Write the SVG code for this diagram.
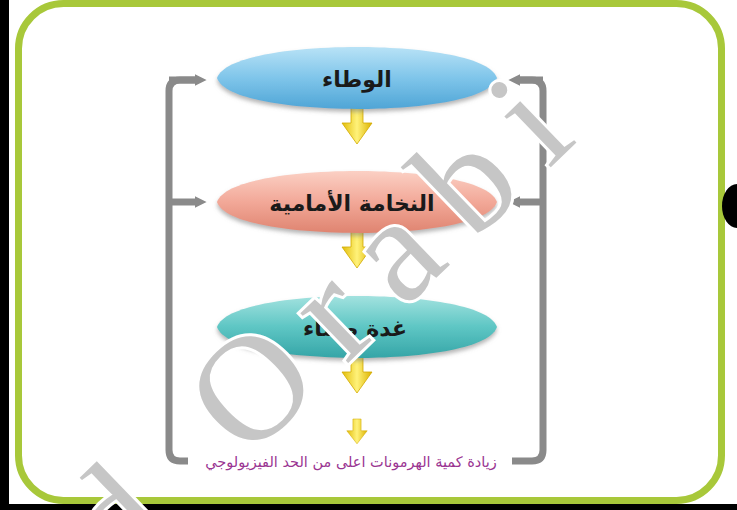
<svg xmlns="http://www.w3.org/2000/svg" width="737" height="510" viewBox="0 0 737 510">
  <style>
    .lbl { font-family: "DejaVu Sans", "Noto Sans", sans-serif; font-weight: bold; font-size: 22px; fill: #1a1a1a; text-anchor: middle; }
    .res { font-family: "DejaVu Sans", "Noto Sans", sans-serif; font-size: 14.5px; fill: #9a3592; text-anchor: middle; }
    .brk { fill: none; stroke: #8a8a8a; stroke-width: 7; stroke-linejoin: round; }
    .wm { font-family: "Liberation Serif", serif; font-size: 150px; letter-spacing: 30px; fill: #c6c6c6; stroke: #ffffff; stroke-width: 6; paint-order: stroke; }
  </style>
  <defs>
    <linearGradient id="gBlue" x1="0" y1="0" x2="0" y2="1">
      <stop offset="0" stop-color="#b8e2f6"/>
      <stop offset="0.5" stop-color="#7fc5ea"/>
      <stop offset="1" stop-color="#4fa5d6"/>
    </linearGradient>
    <linearGradient id="gPink" x1="0" y1="0" x2="0" y2="1">
      <stop offset="0" stop-color="#fbd0c4"/>
      <stop offset="0.5" stop-color="#f2a898"/>
      <stop offset="1" stop-color="#df8470"/>
    </linearGradient>
    <linearGradient id="gTeal" x1="0" y1="0" x2="0" y2="1">
      <stop offset="0" stop-color="#a2e2df"/>
      <stop offset="0.5" stop-color="#5ec6c4"/>
      <stop offset="1" stop-color="#35a5a7"/>
    </linearGradient>
    <linearGradient id="gYel" x1="0" y1="0" x2="1" y2="0">
      <stop offset="0" stop-color="#e2bd0a"/>
      <stop offset="0.5" stop-color="#fff27a"/>
      <stop offset="1" stop-color="#dcb200"/>
    </linearGradient>
    <filter id="sh" x="-10%" y="-30%" width="120%" height="170%">
      <feDropShadow dx="0" dy="3" stdDeviation="2" flood-color="#777777" flood-opacity="0.55"/>
    </filter>
    <path id="lens" d="M-140,0 C-132,-23 -57,-31 0,-31 C57,-31 132,-23 140,0 C132,23 57,31 0,31 C-57,31 -132,23 -140,0 Z"/>
    <path id="yarrow" d="M-6,0 H6 V19 H15 L0,40 L-15,19 H-6 Z" fill="url(#gYel)" stroke="#d2aa00" stroke-width="0.8"/>
    <marker id="ga" viewBox="0 0 10 10" refX="2" refY="5" markerWidth="12" markerHeight="13" markerUnits="userSpaceOnUse" orient="auto">
      <path d="M0,0 L10,5 L0,10 Z" fill="#8a8a8a"/>
    </marker>
  </defs>

  <!-- frame -->
  <rect x="0" y="0" width="737" height="510" fill="#ffffff"/>
  <rect x="0" y="0" width="9" height="510" fill="#000000"/>
  <rect x="0" y="504" width="737" height="6" fill="#000000"/>
  <rect x="18.5" y="3.5" width="703" height="497" rx="45" fill="#ffffff" stroke="#a8c83a" stroke-width="7"/>
  <ellipse cx="737" cy="206" rx="15" ry="22" fill="#000000"/>

  <!-- connectors -->
  <g id="connectors">
    <path class="brk" d="M197,80 H180 Q169,80 169,91 V450 Q169,461 180,461 H188"/>
    <path class="brk" d="M169,80 H197" marker-end="url(#ga)"/>
    <path class="brk" d="M169,202 H197" marker-end="url(#ga)"/>
    <path class="brk" d="M518,80 H532 Q543,80 543,91 V450 Q543,461 532,461 H512"/>
    <path class="brk" d="M543,80 H518" marker-end="url(#ga)"/>
    <path class="brk" d="M543,202 H518" marker-end="url(#ga)"/>
    <use href="#yarrow" x="357" y="104"/>
    <use href="#yarrow" x="357" y="228"/>
    <use href="#yarrow" x="357" y="353"/>
    <use href="#yarrow" transform="translate(357,419) scale(0.68,0.62)"/>
  </g>

  <!-- nodes -->
  <g id="node-wataa">
    <use href="#lens" x="357" y="78" fill="url(#gBlue)" filter="url(#sh)"/>
    <text class="lbl" x="357" y="87">الوطاء</text>
  </g>
  <g id="node-anterior-pituitary">
    <use href="#lens" x="357" y="202" fill="url(#gPink)" filter="url(#sh)"/>
    <text class="lbl" x="352" y="211">النخامة الأمامية</text>
  </g>
  <g id="node-endocrine-gland">
    <use href="#lens" x="357" y="327" fill="url(#gTeal)" filter="url(#sh)"/>
    <text class="lbl" x="355" y="336">غدة صماء</text>
  </g>
  <g id="node-result">
    <text class="res" x="351" y="467">زيادة كمية الهرمونات اعلى من الحد الفيزيولوجي</text>
  </g>

  <!-- watermark -->
  <text class="wm" transform="translate(53,648) rotate(-44)">ad Orabi</text>
</svg>
